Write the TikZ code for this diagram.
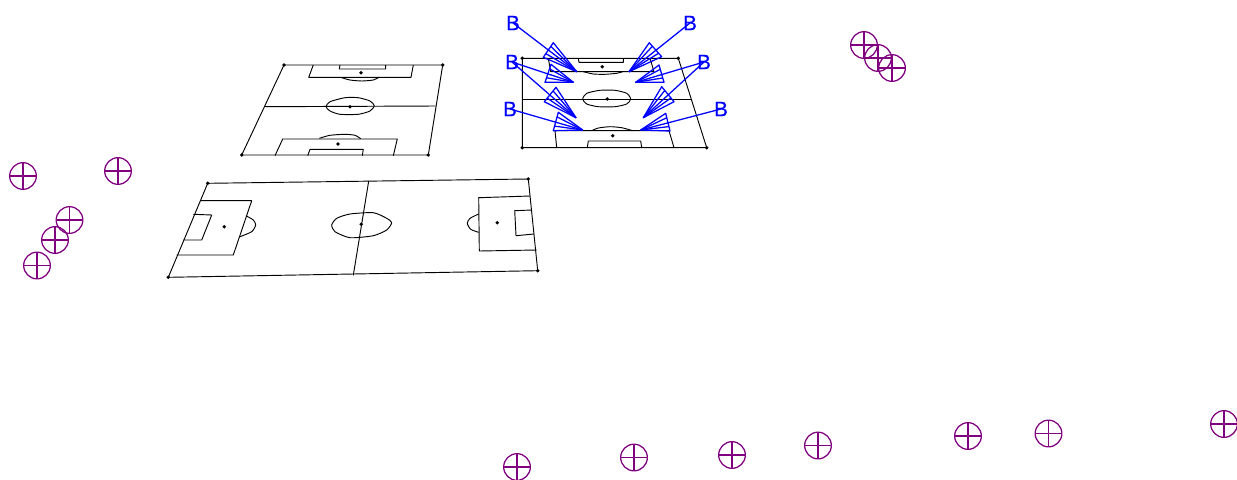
\documentclass[tikz,border=0pt]{standalone}
\usepackage{fontspec}
\newfontfamily\blabelfont[FakeBold=0.5]{Liberation Sans}
\usepackage{xcolor}
\usetikzlibrary{calc}
\definecolor{cBlue}{RGB}{0,0,255}
\definecolor{cPurple}{RGB}{128,0,128}
\tikzset{
	pitch/.style={black, line width=0.7pt, line join=round},
	spot/.style={circle, fill=black, draw=none, inner sep=0pt, minimum size=2.8pt},
	fanline/.style={cBlue, line width=0.95pt, line join=round},
	blabel/.style={cBlue, inner sep=0pt, font=\blabelfont\fontsize{15.5}{16}\selectfont},
	target/.style={circle, draw=cPurple, line width=0.95pt, inner sep=0pt, minimum size=20pt,
		path picture={
			\draw[cPurple, line width=0.95pt] (path picture bounding box.north) -- (path picture bounding box.south);
			\draw[cPurple, line width=0.95pt] (path picture bounding box.west) -- (path picture bounding box.east);
		}},
}

\begin{document}
\begin{tikzpicture}[x=0.75pt, y=-0.75pt]
	\useasboundingbox (0,0) rectangle (1237,479);
	% upper middle pitch
	\draw[pitch] (284,65) -- (442.7,65) -- (428.3,155) -- (241.7,155) -- cycle;
	\draw[pitch] (264.3,106.7) -- (435.7,106);
	\draw[pitch] (313.3,65) -- (308.7,77.3) -- (411,77.3) -- (413.3,65);
	\draw[pitch] (340,65) -- (339.3,69) -- (385.7,69) -- (385.7,65);
	\draw[pitch] plot[smooth, tension=0.4] coordinates {(341.7,77.7) (350,80) (361.7,81) (373.3,80) (379,77.3)};
	\draw[pitch] plot[smooth cycle, tension=0.4] coordinates {(326,106.7) (330,101.7) (345,97.7) (358.3,97.7) (370,101) (374.3,105.7) (370,111) (358.3,114.3) (340,114.3) (330,111)};
	\draw[pitch] (275,155.7) -- (282.7,139) -- (397.3,139) -- (393.3,155.7);
	\draw[pitch] (307.7,155.7) -- (310,149.3) -- (363.3,149.3) -- (362.3,155.7);
	\draw[pitch] plot[smooth, tension=0.4] coordinates {(319.3,138.3) (330,135.3) (345,134.3) (355,135.3) (360.7,138.7)};
	% upper right pitch
	\draw[pitch] (522.3,58.3) -- (678.3,58.3) -- (706.7,147.7) -- (522.3,147.7) -- cycle;
	\draw[pitch] (522.3,99) -- (692.3,99);
	\draw[pitch] (548.3,58.3) -- (550.7,71.7) -- (654,71.7) -- (650,58.3);
	\draw[pitch] (578.3,58.3) -- (579,62.3) -- (623.3,62.3) -- (623.3,58.3);
	\draw[pitch] plot[smooth, tension=0.4] coordinates {(583.3,71.7) (593.3,74) (605,74.3) (616.7,73.3) (622.7,71.7)};
	\draw[pitch] plot[smooth cycle, tension=0.4] coordinates {(582.7,99) (586.7,93.3) (600,90.3) (615,90.3) (626.7,93.3) (630.7,99) (626.7,104) (615,106.7) (598.3,106.7) (586.7,104)};
	\draw[pitch] (556.7,147.7) -- (555,130.7) -- (669,130.7) -- (674,147.7);
	\draw[pitch] (587.3,147.7) -- (588.3,141) -- (640.7,141) -- (641.7,147.7);
	\draw[pitch] plot[smooth, tension=0.4] coordinates {(591.7,130.7) (598.3,128) (610,126.7) (621.7,127.7) (632.7,130.7)};
	% lower pitch
	\draw[pitch] (207.7,183.3) -- (528.3,179) -- (537.7,270.7) -- (168.3,277.3) -- cycle;
	\draw[pitch] (368.7,181) -- (353.3,275.3);
	\draw[pitch] (200,200.7) -- (251.7,200.7) -- (233.3,255) -- (176.7,255);
	\draw[pitch] (193.3,214.3) -- (211.7,215) -- (201.7,240) -- (183.3,240);
	\draw[pitch] plot[smooth, tension=0.4] coordinates {(246,215.7) (253.3,220) (255.7,225) (251.7,231.7) (240,236.7)};
	\draw[pitch] plot[smooth cycle, tension=0.4] coordinates {(331.7,225) (336.7,218.3) (350,214) (373.3,212.7) (386.7,218.3) (391.7,222.7) (386.7,230) (373.3,235.7) (350,237.7) (335,231.7)};
	\draw[pitch] (530,196) -- (478.7,197.7) -- (479.3,251) -- (536.7,250);
	\draw[pitch] (531.7,210) -- (514.7,210.7) -- (516,235.7) -- (534,234);
	\draw[pitch] plot[smooth, tension=0.4] coordinates {(478.7,214) (470,218.3) (467.3,223.3) (470.7,229.3) (478.7,232.3)};
	% corners and penalty spots
	\foreach \x/\y in {284/65, 442.7/65, 428.3/155, 241.7/155, 361/72.7, 350/106.7, 338/144,
		522.3/58.3, 678.3/58.3, 706.7/147.7, 522.3/147.7, 602.3/66.7, 607.3/99, 612.7/135.7,
		207.7/183.3, 528.3/179, 537.7/270.7, 168.3/277.3, 224.3/226.7, 361.3/224.3, 497.3/222.7}
		\node[spot] at (\x,\y) {};
	% labels
	\node[blabel] (bTopL) at (513,23) {B};
	\node[blabel] (bTopR) at (690,23) {B};
	\node[blabel] (bMidL) at (512,62) {B};
	\node[blabel] (bMidR) at (704,62) {B};
	\node[blabel] (bLowL) at (510,109) {B};
	\node[blabel] (bLowR) at (721,109) {B};
	% fans
	\foreach \lbl/\ax/\ay/\px/\py/\qx/\qy in {
		bTopL/576.7/71.7/553.3/42.7/543.3/57.3,
		bTopR/629/71.7/649.3/42.7/661.7/56.7,
		bMidL/573.3/82.3/551/64.3/545/82.3,
		bMidR/635.7/82.3/659/65/664/82.3,
		bMidL/576/117.7/556/87.3/544.3/101.7,
		bMidR/643.3/117.7/661.7/86.7/674/101.7,
		bLowL/582.7/130/558.3/112.3/553.3/130.7,
		bLowR/640.7/130/665.7/113.3/670/131}{
		\coordinate (apex) at (\ax,\ay);
		\coordinate (endP) at (\px,\py);
		\coordinate (endQ) at (\qx,\qy);
		\draw[fanline] (endP) -- (apex) -- (endQ) -- cycle;
		\foreach \f in {0.25,0.75}
			\draw[fanline] ($(endP)!\f!(endQ)$) -- (apex);
		\draw[fanline] (\lbl.center) -- (apex);
	}
	% targets
	\foreach \i/\x/\y in {1/23/176, 2/118/171, 3/69.5/220, 4/55/240, 5/37/265.5,
		6/864/45, 7/878/58, 8/892/68,
		9/517/467, 10/634/457.5, 11/732/455, 12/818/445.5, 13/968/436, 14/1048.5/433.5, 15/1224/424}
		\node[target] (t\i) at (\x,\y) {};
\end{tikzpicture}
\end{document}
